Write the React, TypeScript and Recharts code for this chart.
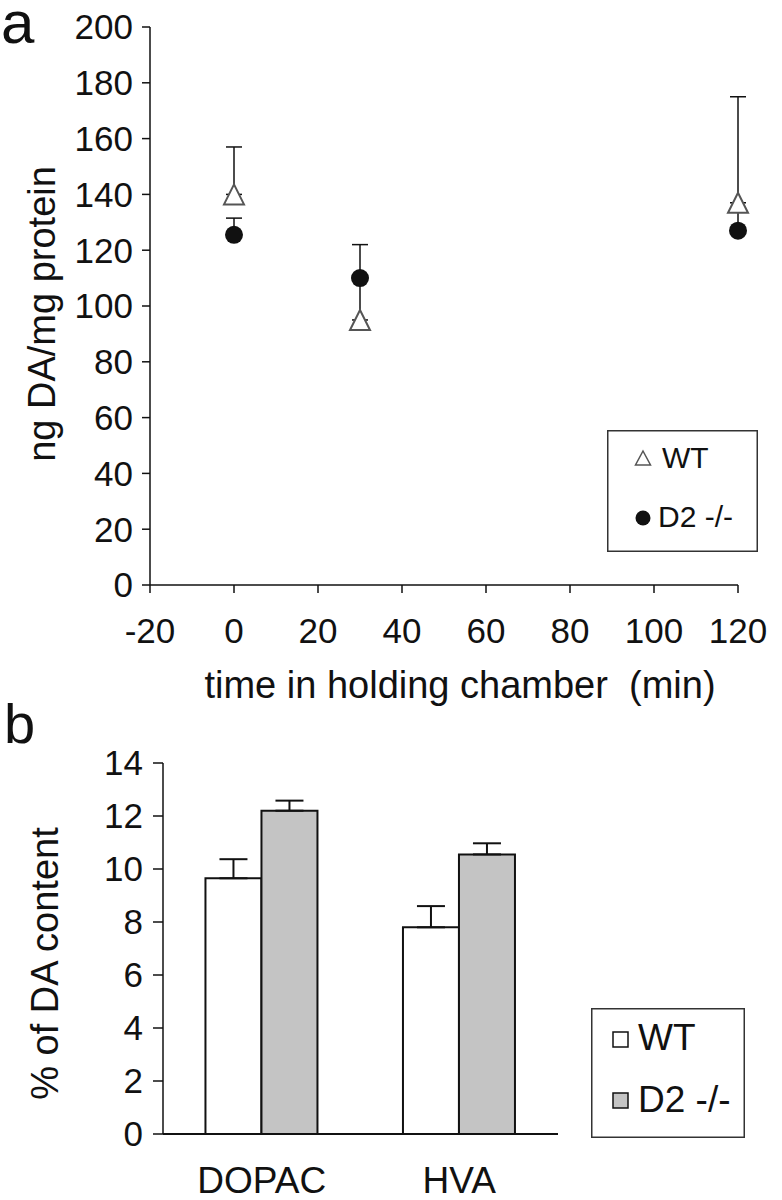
import { Bar, BarChart, ErrorBar, Legend, Scatter, ScatterChart, XAxis, YAxis } from "recharts";

const FONT = '"Liberation Sans", Arial, Helvetica, sans-serif';
const INK = "#111";
const GREY = "#c4c4c4";

// panel a: DA content vs time in holding chamber
const times = [0, 30, 120];
const wtDA = [140, 95, 137];
const wtDAErr = [17, 15, 38];
const d2DA = [125.5, 110, 127];
const d2DAErr = [6, 12, 8];
const timeTicks = [-20, 0, 20, 40, 60, 80, 100, 120];
const daTicks = [0, 20, 40, 60, 80, 100, 120, 140, 160, 180, 200];

// panel b: metabolites as % of DA content
const metabolites = ["DOPAC", "HVA"];
const wtPct = [9.65, 7.8];
const wtPctErr = [0.72, 0.8];
const d2Pct = [12.2, 10.55];
const d2PctErr = [0.38, 0.42];
const pctTicks = [0, 2, 4, 6, 8, 10, 12, 14];

const seriesNames = ["WT", "D2 -/-"];

const wtPoints = times.map((t, i) => ({ t, v: wtDA[i], err: [0, wtDAErr[i]] }));
const d2Points = times.map((t, i) => ({ t, v: d2DA[i], err: [0, d2DAErr[i]] }));
const pctData = metabolites.map((name, i) => ({
  name,
  wt: wtPct[i],
  wtErr: [0, wtPctErr[i]],
  d2: d2Pct[i],
  d2Err: [0, d2PctErr[i]],
}));

const Triangle = (p: any) => {
  const { cx, cy } = p;
  return (
    <polygon
      points={`${cx},${cy - 10} ${cx + 10},${cy + 10} ${cx - 10},${cy + 10}`}
      fill="#fff"
      stroke="#555"
      strokeWidth={2}
    />
  );
};

const Dot = (p: any) => <circle cx={p.cx} cy={p.cy} r={9} fill={INK} />;

const xTitleA = ({ viewBox }: any) => (
  <text
    x={viewBox.x + viewBox.width / 2 + 16}
    y={viewBox.y + 113}
    textAnchor="middle"
    fontSize={38}
    fill={INK}
    fontFamily={FONT}
    style={{ whiteSpace: "pre" }}
  >
    time in holding chamber  (min)
  </text>
);

const yTitle = (text: string, x: number, shift: number) => ({ viewBox }: any) => {
  const y = viewBox.y + viewBox.height / 2 + shift;
  return (
    <text
      x={x}
      y={y}
      transform={`rotate(-90 ${x} ${y})`}
      textAnchor="middle"
      fontSize={38}
      fill={INK}
      fontFamily={FONT}
    >
      {text}
    </text>
  );
};

const LegendA = () => (
  <svg width={151} height={122} style={{ display: "block" }}>
    <rect x={0.75} y={0.75} width={149.5} height={120.5} fill="#fff" stroke="#333" strokeWidth={1.5} />
    <polygon points="36,21 43.5,35 28.5,35" fill="#fff" stroke="#555" strokeWidth={1.5} />
    <text x={55} y={38} fontSize={30} fill={INK} fontFamily={FONT}>{seriesNames[0]}</text>
    <circle cx={36} cy={88} r={7.5} fill={INK} />
    <text x={51} y={97} fontSize={30} fill={INK} fontFamily={FONT}>{seriesNames[1]}</text>
  </svg>
);

const LegendB = () => (
  <svg width={154} height={130} style={{ display: "block" }}>
    <rect x={0.75} y={0.75} width={152.5} height={128.5} fill="#fff" stroke="#333" strokeWidth={1.5} />
    <rect x={22} y={24} width={15} height={15} fill="#fff" stroke={INK} strokeWidth={1.5} />
    <text x={47} y={42} fontSize={37} fill={INK} fontFamily={FONT}>{seriesNames[0]}</text>
    <rect x={22} y={85} width={15} height={15} fill={GREY} stroke={INK} strokeWidth={1.5} />
    <text x={47} y={104} fontSize={37} fill={INK} fontFamily={FONT}>{seriesNames[1]}</text>
  </svg>
);

export default function App() {
  const axisStyle = { stroke: INK, strokeWidth: 1.5 };
  return (
    <div style={{ position: "absolute", left: 0, top: 0, width: 782, height: 1200, background: "#fff", fontFamily: FONT }}>
      <div style={{ position: "absolute", left: 0, top: 0 }}>
        <ScatterChart width={782} height={720} margin={{ top: 27, right: 44, bottom: 25, left: 0 }}>
          <XAxis
            type="number"
            dataKey="t"
            domain={[-20, 120]}
            ticks={timeTicks}
            height={110}
            tickSize={8}
            tickMargin={25}
            axisLine={axisStyle}
            tickLine={axisStyle}
            tick={{ fontSize: 35, fill: INK, fontFamily: FONT }}
            label={xTitleA}
          />
          <YAxis
            type="number"
            dataKey="v"
            domain={[0, 200]}
            ticks={daTicks}
            width={150}
            tickSize={8}
            tickMargin={9}
            axisLine={axisStyle}
            tickLine={axisStyle}
            tick={{ fontSize: 35, fill: INK, fontFamily: FONT }}
            label={yTitle("ng DA/mg protein", 55, 8)}
          />
          <Scatter name={seriesNames[1]} data={d2Points} shape={Dot} isAnimationActive={false}>
            <ErrorBar dataKey="err" direction="y" width={8} stroke={INK} strokeWidth={1.5} />
          </Scatter>
          <Scatter name={seriesNames[0]} data={wtPoints} shape={Triangle} isAnimationActive={false}>
            <ErrorBar dataKey="err" direction="y" width={8} stroke={INK} strokeWidth={1.5} />
          </Scatter>
          <Legend
            layout="horizontal"
            verticalAlign="middle"
            align="center"
            wrapperStyle={{ left: 607, top: 430, width: 151, height: 122 }}
            content={() => <LegendA />}
          />
        </ScatterChart>
      </div>
      <div style={{ position: "absolute", left: 0, top: 720 }}>
        <BarChart
          width={782}
          height={480}
          data={pctData}
          margin={{ top: 43, right: 224, bottom: 6, left: 0 }}
          barCategoryGap="21.5%"
          barGap={0}
        >
          <XAxis
            dataKey="name"
            height={60}
            tickLine={false}
            tickSize={0}
            tickMargin={33}
            axisLine={{ stroke: INK, strokeWidth: 2 }}
            tick={{ fontSize: 37, fill: INK, fontFamily: FONT }}
          />
          <YAxis
            type="number"
            domain={[0, 14]}
            ticks={pctTicks}
            width={163}
            tickSize={10}
            tickMargin={10}
            axisLine={axisStyle}
            tickLine={axisStyle}
            tick={{ fontSize: 35, fill: INK, fontFamily: FONT }}
            label={yTitle("% of DA content", 58, 15)}
          />
          <Bar dataKey="wt" name={seriesNames[0]} fill="#fff" stroke={INK} strokeWidth={2} isAnimationActive={false}>
            <ErrorBar dataKey="wtErr" width={14} stroke={INK} strokeWidth={2} />
          </Bar>
          <Bar dataKey="d2" name={seriesNames[1]} fill={GREY} stroke={INK} strokeWidth={2} isAnimationActive={false}>
            <ErrorBar dataKey="d2Err" width={14} stroke={INK} strokeWidth={2} />
          </Bar>
          <Legend
            layout="horizontal"
            verticalAlign="middle"
            align="center"
            wrapperStyle={{ left: 591, top: 288, width: 154, height: 130 }}
            content={() => <LegendB />}
          />
        </BarChart>
      </div>
      <svg width={782} height={1200} style={{ position: "absolute", left: 0, top: 0, pointerEvents: "none" }}>
        <text x={1} y={43} fontSize={60} fill={INK} fontFamily={FONT}>a</text>
        <text x={4} y={743} fontSize={56} fill={INK} fontFamily={FONT}>b</text>
      </svg>
    </div>
  );
}
